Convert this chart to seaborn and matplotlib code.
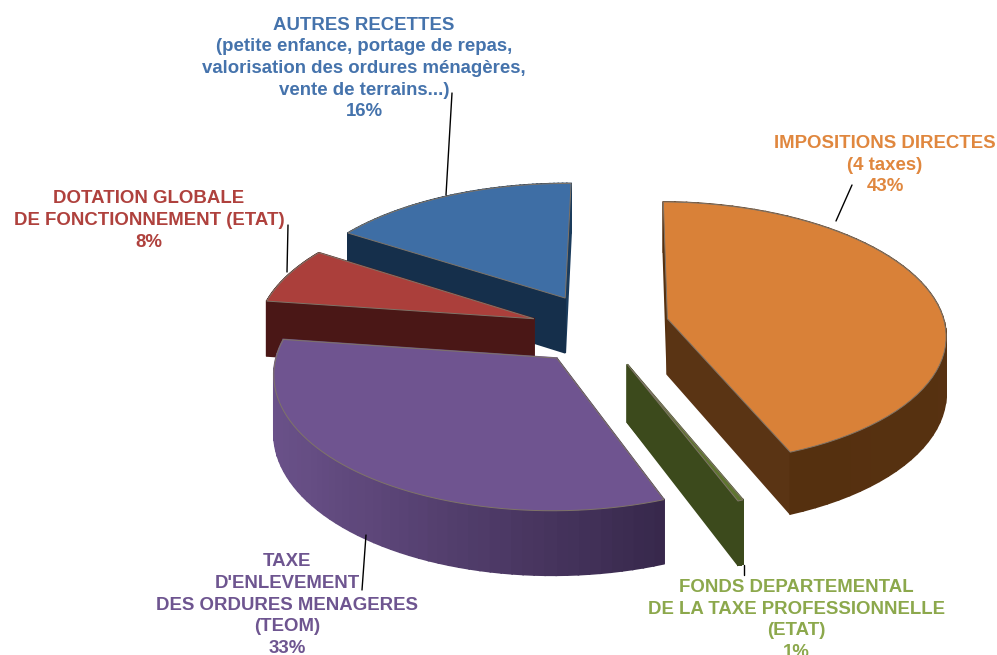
import numpy as np
import matplotlib
matplotlib.use("Agg")
import matplotlib.pyplot as plt
from matplotlib.patches import Polygon
import seaborn as sns

# data
categories = [
    "IMPOSITIONS DIRECTES\n(4 taxes)",
    "FONDS DEPARTEMENTAL\nDE LA TAXE PROFESSIONNELLE\n(ETAT)",
    "TAXE\nD'ENLEVEMENT\nDES ORDURES MENAGERES\n(TEOM)",
    "DOTATION GLOBALE\nDE FONCTIONNEMENT (ETAT)",
    "AUTRES RECETTES\n(petite enfance, portage de repas,\nvalorisation des ordures ménagères,\nvente de terrains...)",
]
percent_labels = ["43%", "1%", "33%", "8%", "16%"]
# slice sizes as measured on the drawn pie
values = [43.7, 0.3, 33.0, 6.9, 16.1]

# style
explode_u = [0.276, 0.128, -0.115, -0.20, -0.09]
explode_v = [0.055, -0.28, -0.235, 0.055, 0.215]
radius = [0.985, 0.93, 0.97, 0.98, 1]
top_colors = ["#D98138", "#5F7530", "#6F5490", "#AB3F3B", "#3E6EA5"]
wall_light = ["#5A3414", "#3C4A1C", "#6A5189", "#551C1A", "#1A3B5C"]
wall_dark = ["#55300F", "#3C4A1C", "#36274A", "#4A1716", "#152F4B"]
text_colors = ["#E0873E", "#8CA84C", "#6E5590", "#AF413D", "#4573AC"]
label_pos = [(885, 165), (796, 620), (287, 605), (149, 220.5), (364, 68.5)]
leader_ends = [((852, 185), (836, 221)), ((744, 565), (744, 575)), ((366, 535), (362, 590)),
               ((288, 225), (287, 272)), ((452, 93), (446, 195))]

CX, CY = 590, 326
RX, RY = 282, 133
PERSP = 0.11
DEPTH = 56
START = np.radians(0.8)

sns.set_theme(style="white")
plt.rcParams["font.family"] = ["Liberation Sans", "DejaVu Sans"]


def project(u, v, drop=0.0):
    s = 1 / (1 + PERSP * v)
    return CX + RX * u * s, CY - RY * v * s + drop * s


fig = plt.figure(figsize=(9.97, 6.55), dpi=100)
ax = fig.add_axes([0, 0, 1, 1])
ax.set_xlim(0, 997)
ax.set_ylim(655, 0)
ax.axis("off")

shares = np.array(values) / sum(values)
edges = START + np.concatenate([[0], np.cumsum(shares)]) * 2 * np.pi

for i in [4, 3, 2, 1, 0]:
    a0, a1 = edges[i], edges[i + 1]
    ou, ov, r = explode_u[i], explode_v[i], radius[i]
    t = np.linspace(a0, a1, 60)
    u = np.concatenate([[ou], ou + r * np.sin(t)])
    v = np.concatenate([[ov], ov + r * np.cos(t)])

    # walls, back ones first
    faces = []
    for j in [0, -1]:
        uu = np.array([ou, ou + r * np.sin(t[j])])
        vv = np.array([ov, ov + r * np.cos(t[j])])
        faces.append((vv.mean(), uu, vv, wall_dark[i] if j == 0 else wall_light[i]))
    shade = sns.blend_palette([wall_light[i], wall_dark[i]], 60)
    for k in range(len(t) - 1):
        uu = ou + r * np.sin(t[k:k + 2])
        vv = ov + r * np.cos(t[k:k + 2])
        x_pos = project(uu.mean(), vv.mean())[0]
        c = shade[int(np.clip((x_pos - 270) / 400, 0, 1) * 59)] if i == 2 else shade[k]
        faces.append((vv.mean(), uu, vv, c))
    for _, uu, vv, c in sorted(faces, key=lambda f: -f[0]):
        x1, y1 = project(uu, vv)
        x2, y2 = project(uu, vv, DEPTH)
        ax.add_patch(Polygon(np.column_stack([np.r_[x1, x2[::-1]], np.r_[y1, y2[::-1]]]),
                             facecolor=c, edgecolor=c, lw=1.2))

    x, y = project(u, v)
    ax.add_patch(Polygon(np.column_stack([x, y]), facecolor=top_colors[i],
                         edgecolor="#7F7468", lw=0.7))

for i in range(len(values)):
    ax.plot(*zip(*leader_ends[i]), color="black", lw=1)
    ax.text(label_pos[i][0], label_pos[i][1], f"{categories[i]}\n{percent_labels[i]}", color=text_colors[i],
            fontsize=13.4, fontweight="bold", ha="center", va="center", linespacing=1.35)

fig.savefig("out.png", dpi=100)
